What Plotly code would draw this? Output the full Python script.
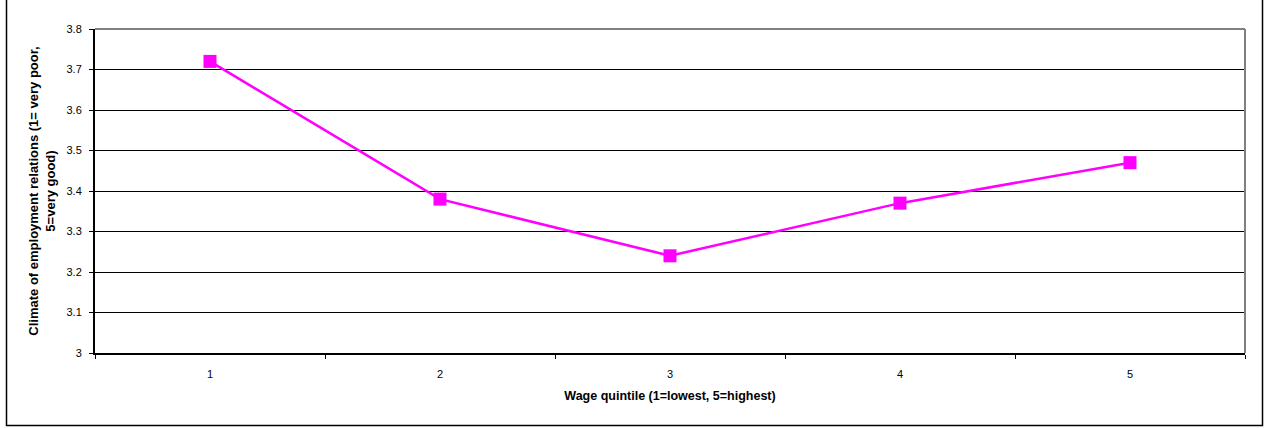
import plotly.graph_objects as go

# Wage quintiles and mean climate rating
quintiles = ["1", "2", "3", "4", "5"]
climate = [3.72, 3.38, 3.24, 3.37, 3.47]
y_ticks = [3.0, 3.1, 3.2, 3.3, 3.4, 3.5, 3.6, 3.7, 3.8]
y_tick_text = ["3", "3.1", "3.2", "3.3", "3.4", "3.5", "3.6", "3.7", "3.8"]

W, H = 1264, 428
L, R, T, B = 95, 19, 29, 75
pw, ph = W - L - R, H - T - B

def px(x):
    return (x - L) / pw

def py(y):
    return (H - B - y) / ph

font = "Liberation Sans, Arial, sans-serif"

fig = go.Figure(
    go.Scatter(
        x=quintiles,
        y=climate,
        mode="lines+markers",
        line=dict(color="#FF00FF", width=2.5),
        marker=dict(symbol="square", size=13, color="#FF00FF"),
        showlegend=False,
    )
)

fig.update_layout(
    width=W,
    height=H,
    margin=dict(l=L, r=R, t=T, b=B),
    paper_bgcolor="white",
    plot_bgcolor="white",
    font=dict(family=font, size=11, color="black"),
    xaxis=dict(
        type="category",
        range=[-0.5, 4.5],
        tickson="boundaries",
        ticks="outside",
        ticklen=4,
        tickcolor="black",
        showgrid=False,
        showline=True,
        linecolor="black",
        linewidth=2,
        tickfont=dict(size=11),
        ticklabelstandoff=10,
        title=dict(text="<b>Wage quintile (1=lowest, 5=highest)</b>", font=dict(size=12.5), standoff=12),
    ),
    yaxis=dict(
        range=[3.0, 3.8],
        tickvals=y_ticks,
        ticktext=y_tick_text,
        ticks="outside",
        ticklen=4,
        tickcolor="black",
        showgrid=True,
        gridcolor="black",
        gridwidth=1,
        showline=True,
        linecolor="black",
        linewidth=2,
        zeroline=False,
        tickfont=dict(size=11),
        ticklabelstandoff=5,
        title=dict(
            text="<b>Climate of employment relations (1= very poor,<br>5=very good)</b>",
            font=dict(size=13),
            standoff=8,
        ),
    ),
    shapes=[
        # gray frame on the top and right of the plot area
        dict(type="line", xref="paper", yref="paper", x0=0, x1=1, y0=1, y1=1,
             line=dict(color="#808080", width=2)),
        dict(type="line", xref="paper", yref="paper", x0=1, x1=1, y0=0, y1=1,
             line=dict(color="#808080", width=2)),
        # outer chart border
        dict(type="rect", xref="paper", yref="paper",
             x0=px(6.5), x1=px(1262.5), y0=py(425.5), y1=py(-3),
             line=dict(color="black", width=1.5), layer="below"),
    ],
)

fig.write_html("out.html")
